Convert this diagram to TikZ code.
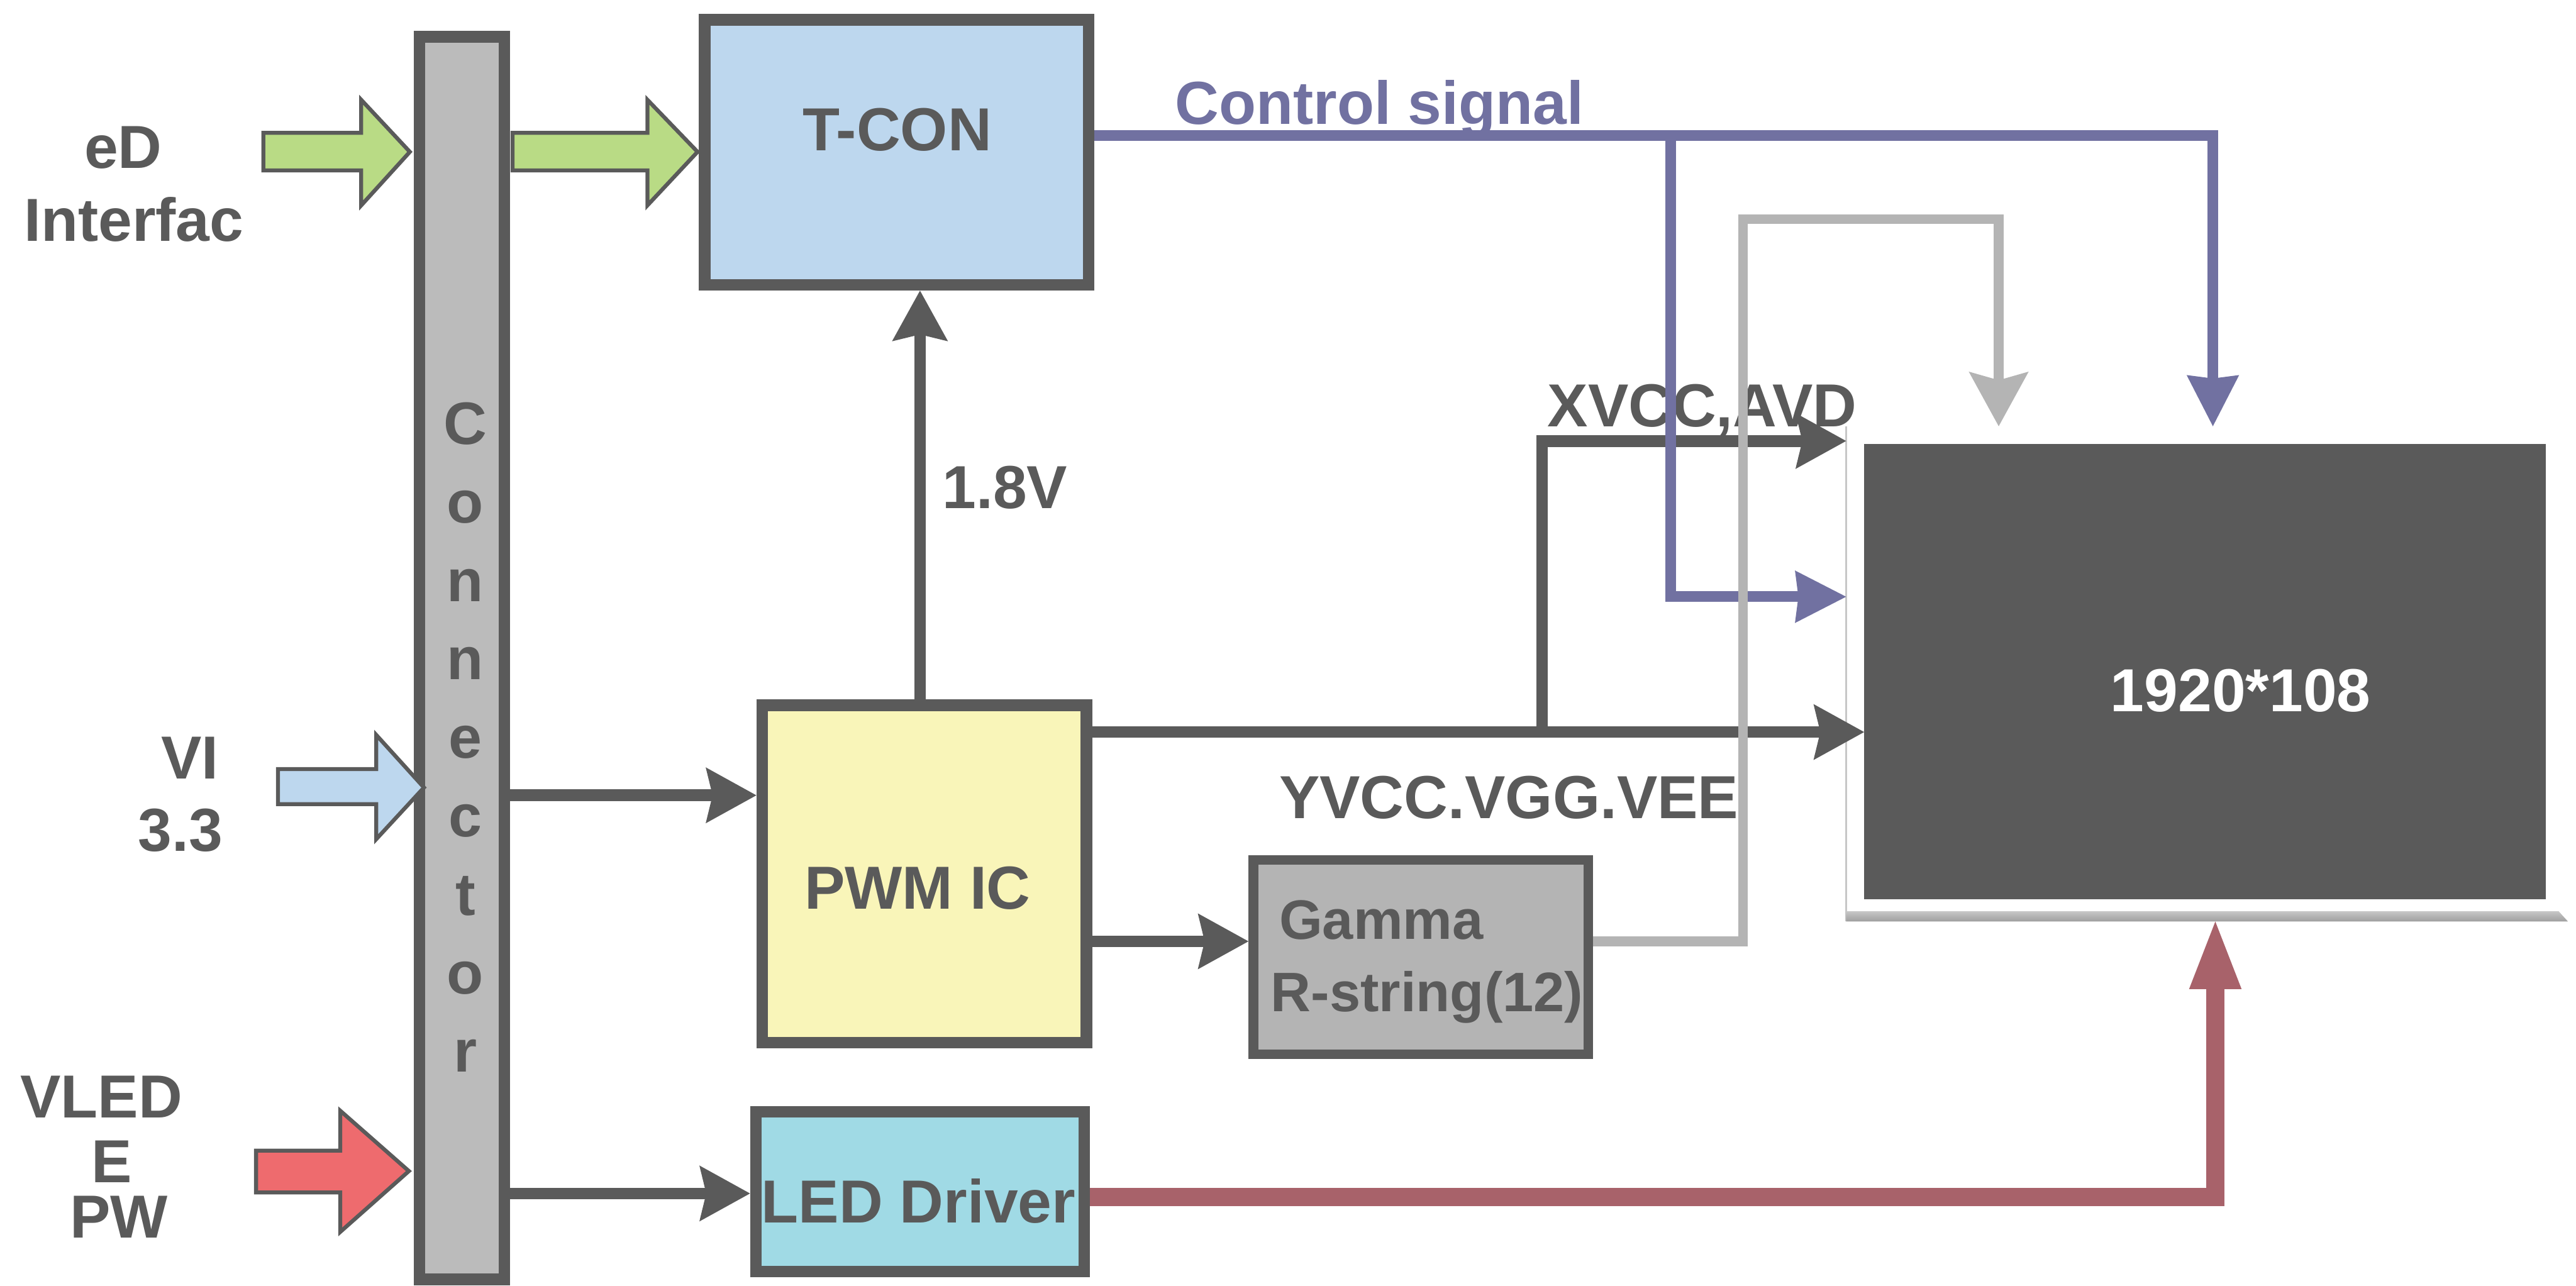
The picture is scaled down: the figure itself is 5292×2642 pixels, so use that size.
\documentclass[tikz,border=0pt]{standalone}
\usepackage{fontspec}
\setmainfont{Liberation Sans}
\usetikzlibrary{arrows.meta}
\definecolor{dk}{HTML}{5A5A5A}
\definecolor{cblue}{HTML}{7171A1}
\definecolor{cgrayl}{HTML}{B4B4B4}
\definecolor{cred}{HTML}{A8626A}
\definecolor{cgreen}{HTML}{B9DB85}
\definecolor{tblue}{HTML}{BDD7EE}
\definecolor{pyel}{HTML}{F9F5B9}
\definecolor{lcyan}{HTML}{A0DAE5}
\definecolor{redarr}{HTML}{EE6B6E}
\definecolor{ggray}{HTML}{B4B4B4}
\definecolor{cbar}{HTML}{BBBBBB}
\begin{document}
\begin{tikzpicture}[x=0.01cm,y=-0.01cm,
  lbl/.style={font=\fontsize{35.5}{40}\selectfont\bfseries, text=dk, inner sep=0pt, outer sep=0pt},
  glbl/.style={font=\fontsize{32.5}{38}\selectfont\bfseries, text=dk, inner sep=0pt, outer sep=0pt},
  conl/.style={font=\fontsize{35}{40}\selectfont\bfseries, text=dk, inner sep=0pt, outer sep=0pt},
  boxs/.style={draw=dk, line width=6.8pt, inner sep=0pt},
  blockarr/.style={draw=dk, line width=2.3pt, line join=miter},
  darr/.style={draw=dk, line width=6.8pt, line cap=round,
    -{Stealth[length=29.6pt,width=32.7pt,inset=4pt,line width=0pt]}},
  barr/.style={draw=cblue, line width=6.2pt,
    -{Stealth[length=29.9pt,width=30.7pt,inset=2pt,line width=0pt]}},
  garr/.style={draw=cgrayl, line width=5.7pt,
    -{Stealth[length=31.9pt,width=35pt,inset=5pt,line width=0pt]}},
  rarr/.style={draw=cred, line width=10.5pt,
    -{Triangle[length=39.5pt,width=30.7pt,line width=0pt]}}
]
\useasboundingbox (0,0) rectangle (5292,2642);

% display panel
\node[fill=white, minimum width=14.82cm, minimum height=10.17cm, inner sep=0pt, outer sep=0pt] (frame) at (4534,1384.5) {};
\node[fill=dk, minimum width=14.00cm, minimum height=9.35cm, inner sep=0pt, outer sep=0pt] (disp) at (4530,1379.5) {};
\draw[draw=black!22, line width=0.9pt] (frame.north west) -- (frame.south west);
\shade[top color=black!22, bottom color=black!38]
  (frame.south west) -- (frame.south east) -- ([shift={(-19,-21)}]frame.south east) -- ([shift={(0,-21)}]frame.south west) -- cycle;

% boxes
\node[boxs, fill=cbar, minimum width=1.74cm, minimum height=25.52cm] (bar) at (949,1352) {};
\node[boxs, fill=tblue, minimum width=7.88cm, minimum height=5.44cm] (tcon) at (1842,313) {};
\node[boxs, fill=pyel, minimum width=6.66cm, minimum height=6.93cm] (pwm) at (1899,1795.5) {};
\node[boxs, line width=5.7pt, fill=ggray, minimum width=6.88cm, minimum height=3.99cm] (gamma) at (2919,1966.5) {};
\node[boxs, fill=lcyan, minimum width=6.74cm, minimum height=3.28cm] (led) at (1890,2448) {};

% block arrows
\draw[blockarr, fill=cgreen] (541,273) -- (742,273) -- (742,205) -- (842,312) -- (742,422) -- (742,350) -- (541,350) -- cycle;
\draw[blockarr, fill=cgreen] (1053,273) -- (1330,273) -- (1330,205) -- (1433,312) -- (1330,422) -- (1330,350) -- (1053,350) -- cycle;
\draw[blockarr, fill=tblue] (571,1580) -- (773,1580) -- (773,1510) -- (871,1618) -- (773,1724) -- (773,1652) -- (571,1652) -- cycle;
\draw[blockarr, fill=redarr] (526,2364) -- (699,2364) -- (699,2282) -- (840,2406) -- (699,2531) -- (699,2450) -- (526,2450) -- cycle;

% texts
\node[lbl, anchor=base] (tconT) at (1843,310) {T-CON};
\node[lbl, anchor=base west, text=cblue] (ctrlT) at (2414,255) {Control signal};
\node[lbl, anchor=base] (edT) at (253,346) {eD};
\node[lbl, anchor=base] (ifT) at (275,495) {Interfac};
\node[lbl, anchor=base] (viT) at (390,1600) {VI};
\node[lbl, anchor=base] (v33T) at (371,1749) {3.3};
\node[lbl, anchor=base] (vledT) at (208,2297) {VLED};
\node[lbl, anchor=base] (eT) at (230,2430) {E};
\node[lbl, anchor=base] (pwT) at (244,2543) {PW};
\node[lbl, anchor=base west] (v18T) at (1936,1045) {1.8V};
\node[lbl, anchor=base west] (xvT) at (3179,877) {XVCC,AVD};
\node[lbl, anchor=base west] (yvT) at (2628,1681) {YVCC.VGG.VEE};
\node[glbl, anchor=base west] (gT1) at (2628,1930) {Gamma};
\node[glbl, anchor=base west] (gT2) at (2611,2078) {R-string(12)};
\node[lbl, anchor=base] (pwmT) at (1885,1867) {PWM IC};
\node[lbl, anchor=base] (ledT) at (1887,2512) {LED Driver};
\node[lbl, text=white, anchor=base] (dispT) at (4603,1462) {1920*108};
\foreach \ch [count=\i from 0] in {C,o,n,n,e,c,t,o,r}
  \node[conl, anchor=base] (cl\i) at (956,{913+161.2*\i}) {\ch};

% helper coordinates
\coordinate (yA) at (0,1634);
\coordinate (yB) at (0,2452);
\coordinate (xV) at (1890,0);
\coordinate (yM) at (0,1504);
\coordinate (jX) at (3168,1504);
\coordinate (yX) at (0,906);
\coordinate (yG) at (0,1934);
\coordinate (gTop) at (3581,450);
\coordinate (xG) at (4106,0);
\coordinate (yC) at (0,278);
\coordinate (xC) at (4546,0);
\coordinate (jC) at (3432,278);
\coordinate (yC2) at (0,1226);
\coordinate (yR) at (0,2459);
\coordinate (xR) at (4551,0);

% dark connectors
\draw[darr] (bar.east |- yA) -- (pwm.west |- yA);
\draw[darr] (bar.east |- yB) -- (led.west |- yB);
\draw[darr] (pwm.north -| xV) -- (tcon.south -| xV);
\draw[darr] (pwm.east |- yM) -- (disp.west |- yM);
\draw[darr, line cap=butt] (jX) -- (jX |- yX) -- (frame.west |- yX);
\draw[darr] (pwm.east |- yG) -- (gamma.west |- yG);

% control signal (blue)
\draw[barr] (tcon.east |- yC) -| (frame.north -| xC);
\draw[barr] (jC) |- (frame.west |- yC2);

% gamma (gray)
\draw[garr] (gamma.east |- yG) -| (gTop) -| (frame.north -| xG);

% LED (red)
\draw[rarr] (led.east |- yR) -| (frame.south -| xR);
\end{tikzpicture}
\end{document}
